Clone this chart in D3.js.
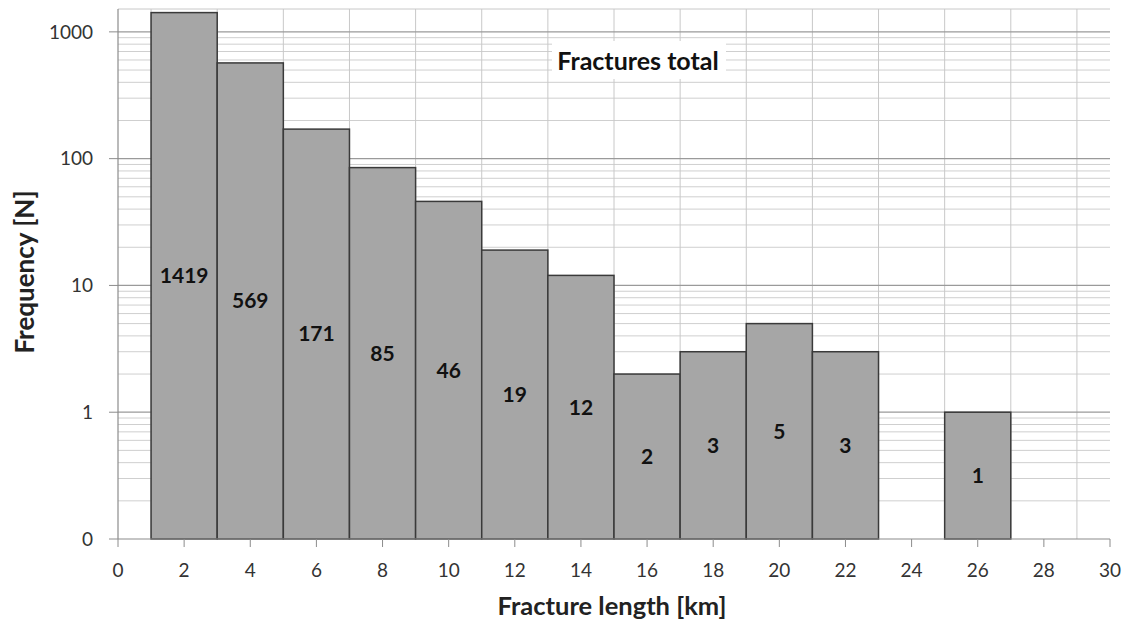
<!DOCTYPE html>
<html>
<head>
<meta charset="utf-8">
<script src="https://cdn.jsdelivr.net/npm/d3@7"></script>
<style>
    body { margin: 0; background: #fff; }
    svg { display: block; font-family: Lato, "Open Sans", sans-serif; }
</style>
</head>
<body>
<svg id="chart" width="1128" height="624"></svg>
<script>
// Histogram bins (fracture length in km) and counts
const binStarts = [1, 3, 5, 7, 9, 11, 13, 15, 17, 19, 21, 23, 25];
const binEnds   = [3, 5, 7, 9, 11, 13, 15, 17, 19, 21, 23, 25, 27];
const counts    = [1419, 569, 171, 85, 46, 19, 12, 2, 3, 5, 3, 0, 1];

const xTicks = [0, 2, 4, 6, 8, 10, 12, 14, 16, 18, 20, 22, 24, 26, 28, 30];
const xGrid = [1, 3, 5, 7, 9, 11, 13, 15, 17, 19, 21, 23, 25, 27, 29];
const yTicks = [0.1, 1, 10, 100, 1000];
const yTickLabels = ['0', '1', '10', '100', '1000'];

const margin = { top: 9, right: 18, bottom: 85, left: 118 };
const width = 1128, height = 624;

const svg = d3.select('#chart');

const x = d3.scaleLinear()
    .domain([0, 30])
    .range([margin.left, width - margin.right]);

const y = d3.scaleLog()
    .domain([0.1, 1515])
    .range([height - margin.bottom, margin.top]);

// minor horizontal gridlines (2..9 per decade)
const minor = [];
[0.1, 1, 10, 100].forEach(d => {
    for (let k = 2; k <= 9; k++) minor.push(d * k);
});

const grid = svg.append('g');

grid.selectAll('.minor')
    .data(minor)
    .join('line')
    .attr('x1', x(0)).attr('x2', x(30))
    .attr('y1', d => y(d)).attr('y2', d => y(d))
    .attr('stroke', '#cfcfcf')
    .attr('stroke-width', 1);

grid.selectAll('.vgrid')
    .data(xGrid)
    .join('line')
    .attr('x1', d => x(d)).attr('x2', d => x(d))
    .attr('y1', y.range()[1]).attr('y2', y.range()[0])
    .attr('stroke', '#c8c8c8')
    .attr('stroke-width', 1);

grid.selectAll('.major')
    .data([1, 10, 100, 1000])
    .join('line')
    .attr('x1', x(0)).attr('x2', x(30))
    .attr('y1', d => y(d)).attr('y2', d => y(d))
    .attr('stroke', '#9a9a9a')
    .attr('stroke-width', 1.2);

// top border of plot area
grid.append('line')
    .attr('x1', x(0)).attr('x2', x(30))
    .attr('y1', y.range()[1]).attr('y2', y.range()[1])
    .attr('stroke', '#c8c8c8');

// bars
const bars = binStarts.map((s, i) => ({ s, e: binEnds[i], v: counts[i] })).filter(d => d.v > 0);

svg.append('g')
    .selectAll('rect')
    .data(bars)
    .join('rect')
    .attr('x', d => x(d.s))
    .attr('width', d => x(d.e) - x(d.s))
    .attr('y', d => y(d.v))
    .attr('height', d => y(0.1) - y(d.v))
    .attr('fill', '#a6a6a6')
    .attr('stroke', '#3a3a3a')
    .attr('stroke-width', 1.5);

// value labels centered in the bar
svg.append('g')
    .selectAll('text')
    .data(bars)
    .join('text')
    .attr('x', d => x((d.s + d.e) / 2))
    .attr('y', d => (y(d.v) + y(0.1)) / 2)
    .attr('dy', '0.35em')
    .attr('text-anchor', 'middle')
    .attr('font-size', 21)
    .attr('font-weight', 'bold')
    .attr('fill', '#111')
    .text(d => d.v);

// axes
const xAxis = svg.append('g');
xAxis.append('line')
    .attr('x1', x(0)).attr('x2', x(30))
    .attr('y1', y(0.1)).attr('y2', y(0.1))
    .attr('stroke', '#8c8c8c').attr('stroke-width', 1.2);
xAxis.selectAll('.tick')
    .data(xTicks)
    .join('line')
    .attr('x1', d => x(d)).attr('x2', d => x(d))
    .attr('y1', y(0.1)).attr('y2', y(0.1) + 8)
    .attr('stroke', '#8c8c8c');
xAxis.selectAll('text')
    .data(xTicks)
    .join('text')
    .attr('x', d => x(d))
    .attr('y', y(0.1) + 31)
    .attr('dy', '0.35em')
    .attr('text-anchor', 'middle')
    .attr('font-size', 19)
    .attr('fill', '#333')
    .text(d => d);

const yAxis = svg.append('g');
yAxis.append('line')
    .attr('x1', x(0)).attr('x2', x(0))
    .attr('y1', y.range()[1]).attr('y2', y(0.1))
    .attr('stroke', '#8c8c8c').attr('stroke-width', 1.2);
yAxis.selectAll('.tick')
    .data(yTicks)
    .join('line')
    .attr('x1', x(0) - 9).attr('x2', x(0))
    .attr('y1', d => y(d)).attr('y2', d => y(d))
    .attr('stroke', '#8c8c8c');
yAxis.selectAll('text')
    .data(yTicks)
    .join('text')
    .attr('x', x(0) - 25)
    .attr('y', d => y(d))
    .attr('dy', '0.35em')
    .attr('text-anchor', 'end')
    .attr('font-size', 19)
    .attr('fill', '#333')
    .text((d, i) => yTickLabels[i]);

// axis titles
svg.append('text')
    .attr('x', 612)
    .attr('y', 606)
    .attr('dy', '0.35em')
    .attr('text-anchor', 'middle')
    .attr('font-size', 25.5)
    .attr('font-weight', 'bold')
    .attr('fill', '#222')
    .text('Fracture length [km]');

svg.append('text')
    .attr('transform', 'translate(25,272) rotate(-90)')
    .attr('dy', '0.35em')
    .attr('text-anchor', 'middle')
    .attr('font-size', 26)
    .attr('font-weight', 'bold')
    .attr('fill', '#222')
    .text('Frequency [N]');

// in-plot title with white box behind
const titleG = svg.append('g');
titleG.append('rect')
    .attr('x', 552).attr('y', 41)
    .attr('width', 174).attr('height', 38)
    .attr('fill', '#fff');
titleG.append('text')
    .attr('x', 638)
    .attr('y', 61)
    .attr('dy', '0.35em')
    .attr('text-anchor', 'middle')
    .attr('font-size', 25)
    .attr('font-weight', 'bold')
    .attr('fill', '#111')
    .text('Fractures total');
</script>
</body>
</html>
